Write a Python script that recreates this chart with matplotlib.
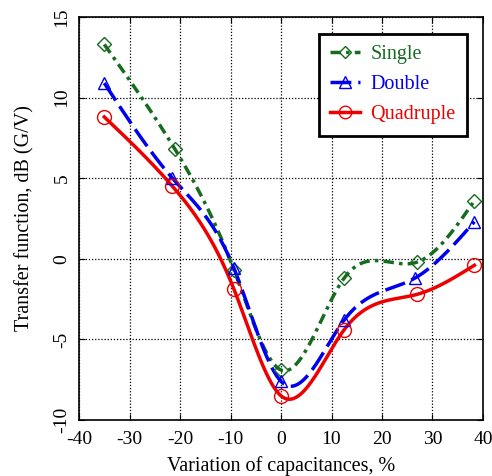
import numpy as np
import matplotlib
matplotlib.use("Agg")
import matplotlib.pyplot as plt

x_single = [-35, -21, -9.3, 0, 12.5, 27, 38.3]
y_single = [13.3, 6.8, -0.7, -6.9, -1.2, -0.2, 3.6]
x_double = [-35, -21.5, -9.3, 0, 12.5, 26.5, 38.3]
y_double = [10.9, 5.0, -0.6, -7.6, -3.8, -1.2, 2.3]
x_quad = [-35, -21.5, -9.3, 0, 12.5, 27, 38.3]
y_quad = [8.8, 4.5, -1.9, -8.5, -4.4, -2.2, -0.4]

xticks = [-40, -30, -20, -10, 0, 10, 20, 30, 40]
yticks = [-10, -5, 0, 5, 10, 15]


def natural_spline(x, y, n=300):
    x = np.asarray(x, float); y = np.asarray(y, float)
    k = len(x); h = np.diff(x)
    A = np.zeros((k, k)); b = np.zeros(k)
    A[0, 0] = 1; A[-1, -1] = 1
    for i in range(1, k - 1):
        A[i, i - 1] = h[i - 1]; A[i, i] = 2 * (h[i - 1] + h[i]); A[i, i + 1] = h[i]
        b[i] = 3 * ((y[i + 1] - y[i]) / h[i] - (y[i] - y[i - 1]) / h[i - 1])
    c = np.linalg.solve(A, b)
    xs = np.linspace(x[0], x[-1], n); ys = np.empty_like(xs)
    for j, xv in enumerate(xs):
        i = min(np.searchsorted(x, xv, side='right') - 1, k - 2)
        d = xv - x[i]
        bb = (y[i + 1] - y[i]) / h[i] - h[i] * (2 * c[i] + c[i + 1]) / 3
        dd = (c[i + 1] - c[i]) / (3 * h[i])
        ys[j] = y[i] + bb * d + c[i] * d ** 2 + dd * d ** 3
    return xs, ys


plt.rcParams['font.family'] = ['Liberation Serif', 'DejaVu Serif']
plt.rcParams['axes.unicode_minus'] = False
fig = plt.figure(figsize=(4.92, 4.76), dpi=100)
ax = fig.add_axes([0.1606, 0.1176, 0.8211, 0.8467])

series = [
    (x_single, y_single, '#156b1e', (0, (3, 1.5, 1, 1.5)), 'D', 'Single', 7),
    (x_double, y_double, '#0000ee', (0, (6, 2)), '^', 'Double', 9),
    (x_quad, y_quad, '#ee0000', '-', 'o', 'Quadruple', 10),
]
handles = []
for xv, yv, col, ls, mk, lab, ms in series:
    xs, ys = natural_spline(xv, yv)
    ax.plot(xs, ys, color=col, ls=ls, lw=2.5, zorder=3)
    ax.plot(xv, yv, ls='none', marker=mk, mfc='none', mec=col, ms=ms, mew=1.0, zorder=4)
    h, = ax.plot([], [], color=col, ls=ls, lw=2.5, marker=mk, mfc='none', mec=col, ms=ms - 1, mew=1.0, label=lab)
    handles.append(h)

ax.set_xlim(-40, 40)
ax.set_ylim(-10, 15)
ax.set_xticks(xticks)
ax.set_yticks(yticks)
ax.tick_params(direction='in', top=True, right=True, labelsize=14, length=4)
ax.tick_params(axis='x', pad=8)
ax.tick_params(axis='y', pad=6)
for lbl in ax.get_yticklabels():
    lbl.set_rotation(90)
    lbl.set_va('center')
ax.grid(True, color='black', ls=(0, (1, 1.5)), lw=0.9)
for s in ax.spines.values():
    s.set_linewidth(1.2)
ax.set_xlabel('Variation of capacitances, %', fontsize=14.5, labelpad=6)
ax.set_ylabel('Transfer function, dB (G/V)', fontsize=14.5, labelpad=14)

leg = ax.legend(handles=handles, loc='upper right', bbox_to_anchor=(0.96, 0.958), fontsize=14.5,
                frameon=True, fancybox=False, edgecolor='black', handlelength=1.5,
                borderpad=0.55, labelspacing=0.55, handletextpad=0.5, borderaxespad=0)
leg.get_frame().set_linewidth(2)
leg.get_frame().set_alpha(1)
for t, (_, _, col, *_r) in zip(leg.get_texts(), series):
    t.set_color(col)

fig.savefig('out.png', dpi=100)
